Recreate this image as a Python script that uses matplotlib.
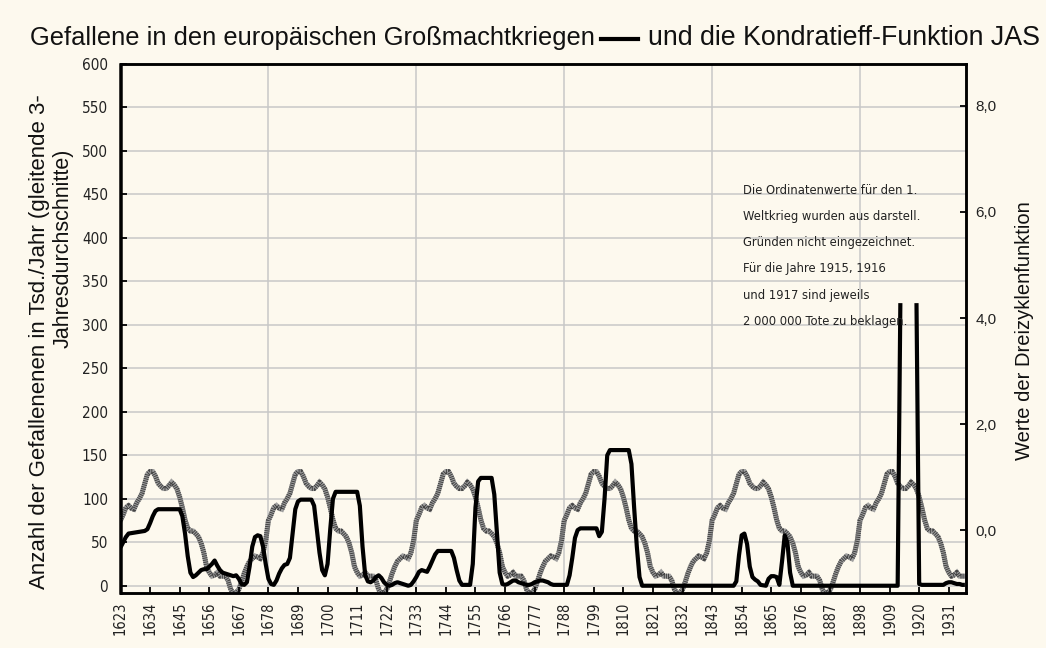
import numpy as np
import matplotlib.pyplot as plt
from matplotlib import font_manager
from matplotlib.font_manager import FontProperties
from matplotlib.lines import Line2D

REGULAR = 'Liberation Sans'
plt.rcParams['font.family'] = [REGULAR, 'DejaVu Sans']
plt.rcParams['lines.scale_dashes'] = False


# look for some narrow sans face (Arial Narrow look-alike) for ticks and note
def find_narrow():
    narrow_stretch = ('condensed', 'semi-condensed', 'extra-condensed', 'ultra-condensed')
    best = None
    for f in font_manager.fontManager.ttflist:
        nm = f.name
        if 'Mono' in nm or 'Serif' in nm:
            continue
        if f.style != 'normal' or f.weight not in (400, 'normal', 'regular', 'book'):
            continue
        if 'Narrow' in nm or 'Condensed' in nm or f.stretch in narrow_stretch:
            rank = 0 if 'Liberation' in nm else (1 if 'Noto' in nm else 2)
            if best is None or rank < best[0]:
                best = (rank, f.fname)
    return best[1] if best else None


narrow_file = find_narrow()
if narrow_file:
    def NARROW(size):
        return FontProperties(fname=narrow_file, size=size)
    xt_size, yt_size, note_size = 10.5, 11, 9.3
else:
    def NARROW(size):
        return FontProperties(family=REGULAR, size=size)
    xt_size, yt_size, note_size = 9.5, 11, 9.4

# -----------------------------------------------------------------------------
# data
# -----------------------------------------------------------------------------
# Gefallene, gleitende 3-Jahresdurchschnitte (Tsd./Jahr), left axis
war_years = [1623, 1624, 1625, 1626, 1628, 1630, 1632, 1633, 1634, 1635, 1636, 1637,
             1645, 1646, 1647, 1648, 1649, 1650, 1651, 1652, 1653, 1654, 1655, 1656,
             1657, 1658, 1659, 1660, 1661, 1662, 1663, 1664, 1665, 1666, 1667, 1668,
             1669, 1670, 1671, 1672, 1673, 1674, 1675, 1676, 1677, 1678, 1679, 1680,
             1681, 1682, 1683, 1684, 1685, 1686, 1687, 1688, 1689, 1690, 1694, 1695,
             1696, 1697, 1698, 1699, 1700, 1701, 1702, 1703, 1711, 1712, 1713, 1714,
             1715, 1716, 1717, 1718, 1719, 1720, 1721, 1722, 1723, 1724, 1725, 1726,
             1727, 1728, 1729, 1730, 1731, 1732, 1733, 1734, 1735, 1736, 1737, 1738,
             1739, 1740, 1741, 1746, 1747, 1748, 1749, 1750, 1753, 1754, 1755, 1756,
             1757, 1761, 1762, 1763, 1764, 1765, 1766, 1767, 1768, 1769, 1770, 1771,
             1772, 1773, 1774, 1775, 1776, 1777, 1778, 1779, 1780, 1781, 1782, 1783,
             1784, 1789, 1790, 1791, 1792, 1793, 1794, 1800, 1801, 1802, 1803, 1804,
             1805, 1812, 1813, 1814, 1815, 1816, 1817, 1851, 1852, 1853, 1854, 1855,
             1856, 1857, 1858, 1859, 1860, 1861, 1863, 1864, 1865, 1866, 1867, 1868,
             1869, 1870, 1871, 1872, 1873, 1912, 1913, 1916, 1919, 1920, 1921, 1929,
             1930, 1931, 1932, 1933, 1934, 1935, 1936, 1937]
war_dead = [44, 50, 56, 60, 61, 62, 63, 65, 72, 80, 86, 88,
            88, 80, 60, 34, 15, 10, 12, 15, 18, 19, 19, 22,
            25, 29, 23, 18, 15, 14, 13, 12, 11, 12, 8, 2,
            1, 4, 22, 45, 56, 58, 57, 45, 25, 8, 2, 1,
            6, 14, 20, 24, 25, 32, 60, 88, 97, 99, 99, 92,
            65, 38, 18, 12, 25, 65, 100, 108, 108, 92, 45, 12,
            5, 4, 6, 10, 12, 9, 4, 1, 0, 1, 3, 4,
            3, 2, 1, 0, 1, 5, 10, 16, 18, 17, 16, 22,
            29, 36, 40, 40, 32, 18, 6, 1, 1, 25, 90, 120,
            124, 124, 105, 60, 15, 2, 1, 2, 4, 6, 6, 4,
            3, 2, 1, 1, 2, 4, 5, 6, 6, 5, 4, 2,
            1, 1, 12, 32, 55, 64, 66, 66, 57, 62, 100, 150,
            156, 156, 140, 90, 45, 10, 0, 0, 5, 35, 58, 60,
            48, 22, 10, 7, 5, 1, 0, 8, 11, 11, 10, 1,
            28, 58, 50, 15, 0, 0, 325, np.nan, 325, 2, 1, 1,
            3, 4, 4, 3, 2, 2, 1, 1]

# Kondratieff-/Dreizyklenfunktion JAS, right axis; one 55-year cycle (1623-1677),
# the function repeats itself unchanged in the picture
jas_cycle = [0.19, 0.30, 0.43, 0.47, 0.42, 0.40, 0.52, 0.60, 0.70, 0.88,
             1.06, 1.11, 1.11, 1.02, 0.89, 0.83, 0.79, 0.79, 0.84, 0.91,
             0.86, 0.78, 0.63, 0.43, 0.20, 0.04, -0.01, -0.01, -0.06, -0.12,
             -0.24, -0.42, -0.68, -0.79, -0.86, -0.84, -0.79, -0.86, -0.86, -0.86,
             -0.94, -1.11, -1.19, -1.17, -1.11, -0.97, -0.81, -0.68, -0.58, -0.53,
             -0.48, -0.50, -0.53, -0.42, -0.19]
jas_years = list(range(1623, 1938))
jas_values = (jas_cycle * 6)[:len(jas_years)]

tick_years = list(range(1623, 1932, 11))
left_ticks = list(range(0, 601, 50))
right_ticks = [0, 2, 4, 6, 8]
right_labels = ['0,0', '2,0', '4,0', '6,0', '8,0']

note_lines = ['Die Ordinatenwerte für den 1.',
              'Weltkrieg wurden aus darstell.',
              'Gründen nicht eingezeichnet.',
              'Für die Jahre 1915, 1916',
              'und 1917 sind jeweils',
              '2 000 000 Tote zu beklagen.']

# -----------------------------------------------------------------------------
# figure
# -----------------------------------------------------------------------------
W, H = 1046, 648
fig = plt.figure(figsize=(W / 100, H / 100), dpi=100, facecolor='#fdf9ee')
ax = fig.add_axes([120.5 / W, 1 - 593.3 / H, (965.7 - 120.5) / W, (593.3 - 64) / H])
ax2 = ax.twinx()
ax.set_zorder(2)
ax.patch.set_visible(False)
ax2.set_zorder(1)
ax2.patch.set_facecolor('white')

# grid (drawn behind both curves)
for v in left_ticks[:-1]:
    ax2.plot([0, 1], [v, v], transform=ax.get_yaxis_transform(), color='#c8c8c8',
             lw=1.1, zorder=0.5)
for yr in tick_years[5::5]:
    ax2.axvline(yr, color='#c8c8c8', lw=1.1, zorder=0.5)

# JAS function: thick striped gray line
ax2.plot(jas_years, jas_values, color='#a0a0a0', lw=3.6, zorder=2,
         solid_joinstyle='miter')
ax2.plot(jas_years, jas_values, color='#444444', lw=3.6, zorder=3,
         dashes=(0.75, 0.75), dash_capstyle='butt')

# war dead
ax.plot(war_years, war_dead, color='black', lw=3.0, solid_joinstyle='round',
        solid_capstyle='butt', zorder=4)

ax.set_xlim(1623, 1937.3)
ax.set_ylim(-8.7, 600)
ax2.set_ylim(-1.183, 8.785)

ax.set_xticks(tick_years)
ax.set_xticklabels([str(y) for y in tick_years], rotation=90,
                   fontproperties=NARROW(xt_size), color='#222222')
ax.set_yticks(left_ticks)
ax.set_yticklabels([str(v) for v in left_ticks], fontproperties=NARROW(yt_size),
                   color='#222222')
ax2.set_yticks(right_ticks)
ax2.set_yticklabels(right_labels, fontsize=11, color='#222222')

ax.tick_params(axis='x', direction='in', length=4, width=1.3, pad=6)
ax.tick_params(axis='y', direction='in', length=4, width=1.3, pad=9)
ax2.tick_params(axis='y', direction='in', length=4, width=1.3, pad=7)

for a in (ax, ax2):
    for s in a.spines.values():
        s.set_linewidth(1.8)
        s.set_color('black')

# title with legend line segment
ty = 1 - 38 / H
fig.text(30 / W, ty, 'Gefallene in den europäischen Großmachtkriegen', ha='left',
         va='center', fontsize=18.4, color='#111111')
fig.text(1040 / W, ty, 'und die Kondratieff-Funktion JAS', ha='right',
         va='center', fontsize=19.3, color='#111111')
fig.add_artist(Line2D([601 / W, 638 / W], [1 - 39 / H, 1 - 39 / H], color='black',
                      lw=3, transform=fig.transFigure))

# axis labels
fig.text(40 / W, 1 - 342 / H, 'Anzahl der Gefallenenen in Tsd./Jahr (gleitende 3-',
         rotation=90, ha='center', va='center', fontsize=16, color='#111111')
fig.text(63 / W, 1 - 248 / H, 'Jahresdurchschnitte)', rotation=90, ha='center',
         va='center', fontsize=15.5, color='#111111')
fig.text(1025 / W, 1 - 331 / H, 'Werte der Dreizyklenfunktion', rotation=90,
         ha='center', va='center', fontsize=14.5, color='#111111')

# note
for i, line in enumerate(note_lines):
    fig.text(743 / W, 1 - (190 + i * 26.3) / H, line, ha='left', va='center',
             fontproperties=NARROW(note_size), color='#222222')

fig.savefig('out.png', dpi=100, facecolor=fig.get_facecolor())
